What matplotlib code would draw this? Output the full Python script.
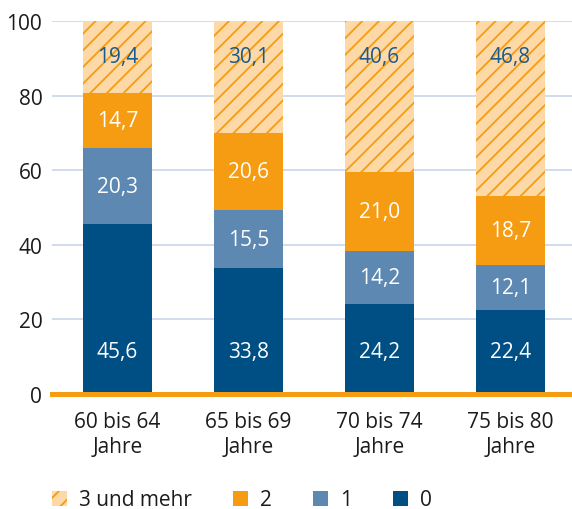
import matplotlib
matplotlib.use("Agg")
from matplotlib import pyplot as plt
from matplotlib.patches import Patch
import numpy as np

plt.rcParams['font.family'] = ['Open Sans', 'DejaVu Sans']
plt.rcParams['hatch.linewidth'] = 1.3

groups = ['60 bis 64\nJahre', '65 bis 69\nJahre', '70 bis 74\nJahre', '75 bis 80\nJahre']
val0 = [45.6, 33.8, 24.2, 22.4]
val1 = [20.3, 15.5, 14.2, 12.1]
val2 = [14.7, 20.6, 21.0, 18.7]
val3 = [19.4, 30.1, 40.6, 46.8]

dark = '#004f84'
mid = '#5d88b2'
orange = '#f59c12'
light = '#fdd9a8'
txt = '#1b1b1b'
fs = 15

def fmt(v):
    return ('%.1f' % v).replace('.', ',')

x = np.arange(len(groups))
w = 0.53

fig = plt.figure(figsize=(5.72, 5.10), dpi=100)
ax = fig.add_axes([52 / 572, 115 / 510, 520 / 572, 373 / 510])

b0 = np.zeros(len(x))
b1 = b0 + np.array(val0)
b2 = b1 + np.array(val1)
b3 = b2 + np.array(val2)

ax.bar(x, val0, w, bottom=b0, color=dark, zorder=2)
ax.bar(x, val1, w, bottom=b1, color=mid, zorder=2)
ax.bar(x, val2, w, bottom=b2, color=orange, zorder=2)
ax.bar(x, val3, w, bottom=b3, color=light, edgecolor=orange, hatch='//', linewidth=0, zorder=2)

for i in x:
    ax.text(i, 11.5, fmt(val0[i]), ha='center', va='center', color='white', fontsize=fs)
    ax.text(i, b1[i] + val1[i] / 2, fmt(val1[i]), ha='center', va='center', color='white', fontsize=fs)
    ax.text(i, b2[i] + val2[i] / 2, fmt(val2[i]), ha='center', va='center', color='white', fontsize=fs)
    ax.text(i, 90.6, fmt(val3[i]), ha='center', va='center', color='#1a5a8c', fontsize=fs)

ax.set_xlim(-0.5, 3.47)
ax.set_ylim(0, 100)
ax.set_yticks(np.arange(0, 101, 20))
ax.set_xticks(x)
ax.set_xticklabels(groups, linespacing=1.3)
ax.tick_params(axis='both', length=0, labelsize=fs, colors=txt)
ax.tick_params(axis='x', pad=12)
ax.tick_params(axis='y', pad=7)
ax.grid(axis='y', color='#c9d5e9', linewidth=1.2, zorder=0)
for s in ['top', 'right', 'left']:
    ax.spines[s].set_visible(False)
ax.spines['bottom'].set_color(orange)
ax.spines['bottom'].set_linewidth(3.6)
ax.spines['bottom'].set_zorder(3)

handles = [
    Patch(facecolor=light, edgecolor=orange, hatch='//', linewidth=0),
    Patch(facecolor=orange),
    Patch(facecolor=mid),
    Patch(facecolor=dark),
]
labels = ['3 und mehr', '2', '1', '0']
fig.legend(handles, labels, loc='center left', bbox_to_anchor=(33 / 572, 1 - 501 / 510),
           ncol=4, frameon=False, fontsize=fs, handlelength=0.72, handleheight=0.72,
           handletextpad=0.6, columnspacing=1.95, labelcolor=txt)

fig.savefig('out.png', dpi=100)
